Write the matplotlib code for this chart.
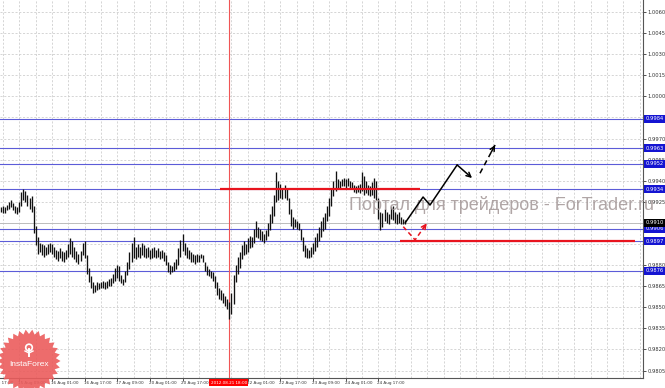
import matplotlib
matplotlib.use('Agg')
import matplotlib.pyplot as plt
import matplotlib.transforms as mtransforms
from matplotlib.patches import Polygon, Circle
import numpy as np

# ---------------- data (H1 bars) ----------------
highs = [
    .9921, .9922, .9921, .9923, .9925, .9926, .9924, .9922, .9921, .9925,
    .9932, .9934, .9933, .9930, .9928, .9929, .9922, .9908, .9900, .9896,
    .9895, .9894, .9893, .9895, .9896, .9895, .9893, .9891, .9890, .9892,
    .9890, .9889, .9891, .9895, .9899, .9897, .9893, .9890, .9888, .9890,
    .9896, .9897, .9887, .9878, .9872, .9868, .9866, .9868, .9867, .9868,
    .9869, .9868, .9869, .9870, .9871, .9874, .9878, .9880, .9879, .9873,
    .9870, .9876, .9882, .9889, .9896, .9900, .9893, .9895, .9893, .9896,
    .9894, .9892, .9893, .9891, .9892, .9893, .9891, .9892, .9890, .9891,
    .9889, .9887, .9882, .9880, .9879, .9882, .9884, .9892, .9898, .9902,
    .9896, .9893, .9891, .9889, .9888, .9887, .9888, .9887, .9888, .9887,
    .9882, .9879, .9877, .9876, .9875, .9872, .9868, .9864, .9862, .9860,
    .9858, .9856, .9854, .9860, .9873, .9880, .9886, .9889, .9894, .9897,
    .9895, .9899, .9901, .9900, .9906, .9911, .9907, .9906, .9904, .9902,
    .9905, .9910, .9916, .9922, .9930, .9946, .9940, .9938, .9934, .9937,
    .9935, .9928, .9920, .9914, .9913, .9911, .9910, .9906, .9900, .9894,
    .9892, .9891, .9893, .9896, .9900, .9903, .9907, .9911, .9914, .9917,
    .9922, .9928, .9934, .9940, .9947, .9941, .9940, .9941, .9942, .9941,
    .9942, .9940, .9939, .9937, .9936, .9937, .9938, .9946, .9943, .9940,
    .9937, .9936, .9939, .9942, .9940, .9928, .9918, .9917, .9920, .9918,
    .9916, .9921, .9922, .9918, .9916, .9918, .9914, .9913, .9912,
]
lows = [
    .9918, .9917, .9917, .9919, .9920, .9921, .9919, .9917, .9916, .9918,
    .9922, .9926, .9925, .9922, .9920, .9918, .9903, .9894, .9888, .9889,
    .9887, .9886, .9887, .9888, .9889, .9888, .9886, .9884, .9883, .9885,
    .9883, .9882, .9884, .9886, .9888, .9886, .9884, .9882, .9881, .9883,
    .9887, .9885, .9874, .9868, .9864, .9860, .9861, .9862, .9863, .9864,
    .9864, .9863, .9864, .9865, .9865, .9867, .9869, .9871, .9869, .9867,
    .9866, .9868, .9873, .9877, .9882, .9885, .9884, .9886, .9885, .9887,
    .9886, .9885, .9886, .9884, .9885, .9886, .9885, .9886, .9884, .9885,
    .9883, .9880, .9875, .9874, .9875, .9876, .9877, .9880, .9886, .9890,
    .9887, .9885, .9884, .9882, .9882, .9881, .9882, .9882, .9885, .9882,
    .9876, .9873, .9872, .9871, .9869, .9864, .9859, .9856, .9855, .9853,
    .9851, .9849, .9842, .9845, .9852, .9868, .9874, .9878, .9884, .9887,
    .9888, .9889, .9892, .9893, .9896, .9900, .9899, .9898, .9897, .9896,
    .9898, .9901, .9905, .9910, .9915, .9925, .9926, .9928, .9927, .9928,
    .9926, .9916, .9908, .9906, .9907, .9906, .9905, .9898, .9890, .9886,
    .9885, .9885, .9886, .9888, .9890, .9893, .9897, .9900, .9904, .9906,
    .9911, .9915, .9922, .9929, .9933, .9934, .9935, .9936, .9936, .9935,
    .9936, .9935, .9934, .9932, .9931, .9932, .9931, .9933, .9930, .9931,
    .9930, .9929, .9930, .9928, .9926, .9913, .9905, .9907, .9911, .9910,
    .9909, .9913, .9912, .9910, .9909, .9910, .9909, .9909, .9909,
]
first_bar = -9
bar_index = list(range(first_bar, first_bar + len(highs)))

price_ticks = [1.0060, 1.0045, 1.0030, 1.0015, 1.0000, 0.9985, 0.9970, 0.9955,
               0.9940, 0.9925, 0.9910, 0.9895, 0.9880, 0.9865, 0.9850, 0.9835,
               0.9820, 0.9805]
# tick labels hidden under the price boxes in the reference
hidden_ticks = [0.9985, 0.9910, 0.9895]
level_lines = [0.9984, 0.9963, 0.9952, 0.9934, 0.9906, 0.9897, 0.9876]
level_labels = ['0.9984', '0.9963', '0.9952', '0.9934', '0.9906', '0.9897', '0.9876']
bid_price = 0.9910
bid_label = '0.9910'

time_tick_bars = [-16, 0, 16, 32, 48, 64, 80, 96, 112, 128, 144, 160, 176]
time_tick_labels = ['14 Aug 17:00', '15 Aug 09:00', '16 Aug 01:00', '16 Aug 17:00',
                    '17 Aug 09:00', '20 Aug 01:00', '20 Aug 17:00', '21 Aug 09:00',
                    '22 Aug 01:00', '22 Aug 17:00', '23 Aug 09:00', '24 Aug 01:00',
                    '24 Aug 17:00']
cursor_bar = 102.6
cursor_label = '2012.08.21 18:00'

resistance_price, resistance_from, resistance_to = 0.9934, 98.4, 196.4
support_price, support_from, support_to = 0.9897, 186.6, 301.8

forecast_x = [189.1, 197.9, 201.3, 214.6, 221.9]
forecast_y = [0.9910, 0.99284, 0.99227, 0.99512, 0.99419]
forecast2_x = [225.8, 233.2]
forecast2_y = [0.99453, 0.99654]
alt_x = [188.2, 194.0, 199.7]
alt_y = [0.99073, 0.98979, 0.99097]

watermark = 'Портал для трейдеров - ForTrader.ru'

# ---------------- figure ----------------
W, H = 665, 388
fig = plt.figure(figsize=(W / 100, H / 100), dpi=100)
fig.patch.set_facecolor('white')
ax = fig.add_axes([0, 10 / H, 643 / W, 378 / H])
ax.set_facecolor('white')

grid_kw = dict(color='#cfcfcf', lw=0.6, linestyle=(0, (2.5, 2)))
ax.set_yticks(price_ticks,
              ['' if p in hidden_ticks else '%.4f' % p for p in price_ticks])
ax.yaxis.tick_right()
ax.tick_params(axis='y', labelsize=3.7, length=2, width=0.6, pad=1.2,
               colors='#333333')
ax.set_xticks([b for b in time_tick_bars if b >= -9], [])
ax.set_xticks(np.arange(-8, 305, 8), minor=True)
ax.tick_params(axis='x', which='major', length=2.5, width=0.6, colors='#333333')
ax.tick_params(axis='x', which='minor', length=0)
ax.grid(axis='x', which='both', **grid_kw)
ax.grid(axis='y', which='major', **grid_kw)
ax.set_axisbelow(True)
for s in ['top', 'left']:
    ax.spines[s].set_visible(False)
for s in ['right', 'bottom']:
    ax.spines[s].set_color('#555555')
    ax.spines[s].set_linewidth(0.8)

ax.set_xlim(-9.46, 305.7)
ax.set_ylim(0.97997, 1.00685)

trans_x = mtransforms.blended_transform_factory(ax.transData, ax.transAxes)
trans_y = mtransforms.blended_transform_factory(ax.transAxes, ax.transData)

# bottom time labels (left aligned at the tick); the one under the
# cursor box is hidden in the reference
for b, lb in zip(time_tick_bars, time_tick_labels):
    if abs(b - cursor_bar) < 8:
        continue
    ax.text(b - 0.5, -0.0125, lb, transform=trans_x, fontsize=3.0,
            color='#333333', va='center', ha='left', clip_on=False, zorder=5)

# horizontal level lines
for lv in level_lines:
    ax.axhline(lv, color='#5c5cd8', lw=0.8, zorder=2)
ax.axhline(bid_price, color='#bdbdbd', lw=0.7, zorder=1.8)
ax.axvline(cursor_bar, color='#f05555', lw=0.8, zorder=2.2)

# price bars
ax.vlines(bar_index, lows, highs, color='#111111', lw=0.95, zorder=3)

# red support / resistance
ax.hlines(resistance_price, resistance_from, resistance_to, color='#e8141e',
          lw=1.6, zorder=4)
ax.hlines(support_price, support_from, support_to, color='#e8141e',
          lw=1.6, zorder=4)

# watermark, sized to span x = 349..658 px
wm = ax.text(349 / 643, (378 - 210.5) / 378, watermark,
             transform=ax.transAxes, fontsize=14, family='Liberation Sans',
             color='#a39797', alpha=0.85, va='baseline', ha='left',
             clip_on=False, zorder=3.5)
fig.canvas.draw()
wbox = wm.get_window_extent(renderer=fig.canvas.get_renderer())
wm.set_fontsize(14 * 309.0 / wbox.width)

# forecast arrows
ax.plot(forecast_x[:-1], forecast_y[:-1], color='black', lw=1.1, zorder=6,
        solid_capstyle='round')
ax.annotate('', xy=(forecast_x[-1], forecast_y[-1]),
            xytext=(forecast_x[-2], forecast_y[-2]),
            arrowprops=dict(arrowstyle='->', color='black', lw=1.1,
                            mutation_scale=8, shrinkA=0, shrinkB=0), zorder=6)
ax.plot(forecast2_x, forecast2_y, color='black', lw=1.1, zorder=6,
        linestyle=(0, (3.5, 2.5)))
ax.annotate('', xy=(forecast2_x[-1], forecast2_y[-1]),
            xytext=(forecast2_x[-1] - 0.25 * (forecast2_x[-1] - forecast2_x[0]),
                    forecast2_y[-1] - 0.25 * (forecast2_y[-1] - forecast2_y[0])),
            arrowprops=dict(arrowstyle='->', color='black', lw=1.1,
                            mutation_scale=8, shrinkA=0, shrinkB=0), zorder=6)
ax.plot(alt_x, alt_y, color='#e8141e', lw=1.1, zorder=6,
        linestyle=(0, (3, 2)))
ax.annotate('', xy=(alt_x[-1], alt_y[-1]),
            xytext=(alt_x[-1] - 0.3 * (alt_x[-1] - alt_x[-2]),
                    alt_y[-1] - 0.3 * (alt_y[-1] - alt_y[-2])),
            arrowprops=dict(arrowstyle='->', color='#e8141e', lw=1.1,
                            mutation_scale=8, shrinkA=0, shrinkB=0), zorder=6)

# price label boxes on the right axis
for lv, lb in zip(level_lines, level_labels):
    ax.text(1.0035, lv, lb, transform=trans_y, fontsize=3.7, color='white',
            va='center', ha='left', clip_on=False, zorder=10,
            bbox=dict(boxstyle='square,pad=0.3', fc='#1414d2', ec='none'))
ax.text(1.0035, bid_price, bid_label, transform=trans_y, fontsize=3.7,
        color='white', va='center', ha='left', clip_on=False, zorder=10,
        bbox=dict(boxstyle='square,pad=0.3', fc='#000000', ec='none'))

# cursor time label
ax.text(cursor_bar, -0.0125, cursor_label, transform=trans_x, fontsize=3.0,
        color='white', va='center', ha='center', clip_on=False, zorder=10,
        bbox=dict(boxstyle='square,pad=0.35', fc='#ff0000', ec='none'))

# InstaForex badge (decoration)
lax = fig.add_axes([0, 0, 1, 1], zorder=20)
lax.set_xlim(0, W)
lax.set_ylim(H, 0)
lax.axis('off')
n = 30
ang = np.linspace(0, 2 * np.pi, 2 * n, endpoint=False)
rad = np.where(np.arange(2 * n) % 2 == 0, 31.5, 27.0)
cx, cy = 29, 361
star = np.column_stack([cx + rad * np.cos(ang), cy + rad * np.sin(ang)])
lax.add_patch(Polygon(star, closed=True, fc='#eb5c5c', ec='none', alpha=0.9))
lax.add_patch(Circle((cx, 347.5), 3.3, fc='none', ec='white', lw=1.2))
lax.plot([cx, cx], [349, 356], color='white', lw=1.4)
lax.plot([cx - 4, cx, cx + 4], [351, 353, 351], color='white', lw=1.0)
lax.text(cx, 364.5, 'InstaForex', fontsize=6, color='white', ha='center',
         va='center', family='Liberation Sans')

fig.savefig('out.png', dpi=100, facecolor='white')
